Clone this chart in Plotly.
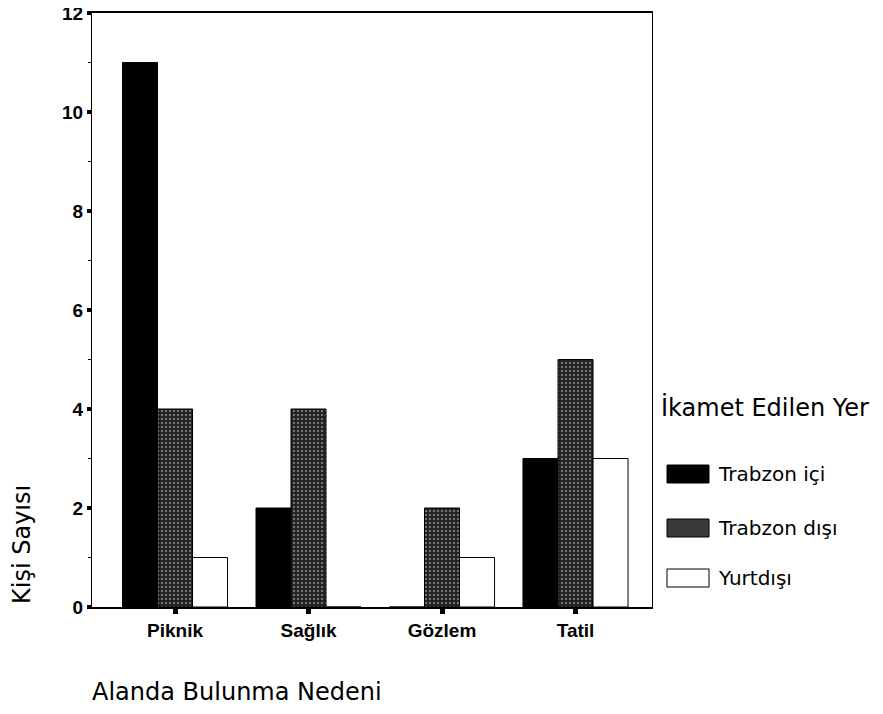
import plotly.graph_objs as go

# data
categories = ['Piknik', 'Sağlık', 'Gözlem', 'Tatil']
trabzon_ici = [11, 2, 0, 3]
trabzon_disi = [4, 4, 2, 5]
yurtdisi = [1, 0, 1, 3]
series_names = ['Trabzon içi', 'Trabzon dışı', 'Yurtdışı']
y_ticks = [0, 2, 4, 6, 8, 10, 12]

# the page body adds an 8px margin, so the figure is a bit smaller
OFF = 8
W, H = 883 - OFF, 714 - OFF
L, R, T, B = 92 - OFF, 231, 13 - OFF, 107
TICK_FONT = 'Liberation Sans, Arial, sans-serif'
TEXT_FONT = 'DejaVu Sans, sans-serif'

fills = ['#000000', '#1e1e1e', '#ffffff']

data = [
    go.Bar(x=categories, y=trabzon_ici, name=series_names[0],
           marker={'color': fills[0], 'line': {'color': 'black', 'width': 1}}),
    go.Bar(x=categories, y=trabzon_disi, name=series_names[1],
           marker={'color': fills[1], 'line': {'color': 'black', 'width': 1},
                   'pattern': {'shape': '.', 'fgcolor': '#c8c8c8',
                               'size': 4, 'solidity': 0.3}}),
    go.Bar(x=categories, y=yurtdisi, name=series_names[2],
           marker={'color': fills[2], 'line': {'color': 'black', 'width': 1}}),
]


# window pixel -> paper coords
def px_x(p):
    return (p - OFF - L) / (W - L - R)


def px_y(p):
    return (H - B - (p - OFF)) / (H - T - B)


# hand-made legend with big swatches
swatch_fills = ['#000000', '#3a3a3a', '#ffffff']
shapes = []
annotations = []
legend_rows = [474, 528, 578]
for name, fill, yc in zip(series_names, swatch_fills, legend_rows):
    shapes.append(dict(type='rect', xref='paper', yref='paper',
                       x0=px_x(667), x1=px_x(709),
                       y0=px_y(yc + 9), y1=px_y(yc - 9),
                       fillcolor=fill, line={'color': 'black', 'width': 1}))
    annotations.append(dict(text=name, xref='paper', yref='paper',
                            x=px_x(716), y=px_y(yc), xanchor='left',
                            yanchor='middle', showarrow=False,
                            font={'size': 20, 'color': 'black', 'family': TEXT_FONT}))

annotations.append(dict(text='İkamet Edilen Yer', xref='paper', yref='paper',
                        x=px_x(659), y=px_y(407), xanchor='left',
                        yanchor='middle', showarrow=False,
                        font={'size': 24, 'color': 'black', 'family': TEXT_FONT}))
annotations.append(dict(text='Alanda Bulunma Nedeni', xref='paper', yref='paper',
                        x=px_x(90), y=px_y(692), xanchor='left',
                        yanchor='middle', showarrow=False,
                        font={'size': 24, 'color': 'black', 'family': TEXT_FONT}))
annotations.append(dict(text='Kişi Sayısı', xref='paper', yref='paper',
                        x=px_x(22), y=px_y(545), xanchor='center',
                        yanchor='middle', showarrow=False, textangle=-90,
                        font={'size': 24, 'color': 'black', 'family': TEXT_FONT}))

layout = go.Layout(
    width=W, height=H,
    margin={'l': L, 'r': R, 't': T, 'b': B, 'autoexpand': False},
    paper_bgcolor='white', plot_bgcolor='white',
    barmode='group', bargap=0.213, bargroupgap=0,
    showlegend=False,
    font={'family': TICK_FONT, 'color': 'black'},
    xaxis={'range': [-0.622, 3.573], 'showline': True, 'linecolor': 'black',
           'linewidth': 1.5, 'mirror': True, 'ticks': 'outside',
           'ticklen': 5, 'tickwidth': 5, 'tickcolor': 'black',
           'automargin': False,
           'tickfont': {'size': 19, 'family': TICK_FONT, 'weight': 'bold'},
           'showgrid': False, 'zeroline': False},
    yaxis={'range': [0, 12], 'tickvals': y_ticks, 'showline': True,
           'linecolor': 'black', 'linewidth': 1, 'mirror': True,
           'ticks': 'outside', 'ticklen': 4, 'tickwidth': 4,
           'tickcolor': 'black', 'ticklabeloverflow': 'allow',
           'automargin': False,
           'minor': {'dtick': 1, 'ticks': 'outside', 'ticklen': 3,
                     'tickwidth': 1, 'tickcolor': 'black'},
           'tickfont': {'size': 19, 'family': TICK_FONT, 'weight': 'bold'},
           'showgrid': False, 'zeroline': False},
    shapes=shapes,
    annotations=annotations,
)

fig = go.Figure(data=data, layout=layout)
fig.write_html('out.html')
